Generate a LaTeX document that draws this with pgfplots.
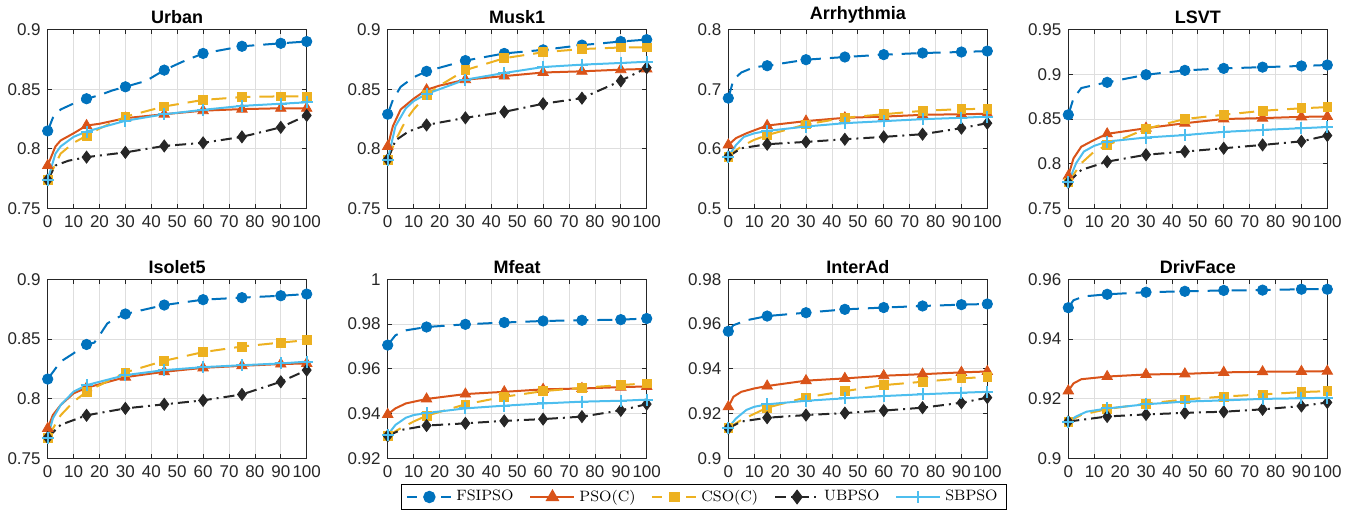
\documentclass[border=0pt]{standalone}
\usepackage{pgfplots}
\pgfplotsset{compat=1.18}
\usepackage{fontspec}
\newfontfamily\hel{Liberation Sans}
\definecolor{cfs}{rgb}{0,0.447,0.741}
\definecolor{cps}{rgb}{0.850,0.325,0.098}
\definecolor{ccs}{rgb}{0.929,0.694,0.125}
\definecolor{cub}{rgb}{0.15,0.15,0.15}
\definecolor{csb}{rgb}{0.301,0.745,0.933}
\definecolor{axc}{rgb}{0.15,0.15,0.15}
\pgfplotsset{
  sub/.style={
    scale only axis, width=129.5pt, height=89.4pt, anchor=south west,
    xmin=0, xmax=100, xtick={0,10,...,100},
    grid=major, major grid style={color=black!13, line width=0.4pt},
    tick align=inside, axis line style={axc, line width=0.45pt},
    major tick length=2.2pt, tick style={axc, line width=0.4pt},
    every tick label/.append style={color=axc, font=\hel\fontsize{8.5}{10}\selectfont},
    /pgf/number format/assume math mode=true,
    scaled y ticks=false,
    title style={font=\hel\bfseries\fontsize{9}{10}\selectfont, at={(0.5,1)}, anchor=south, yshift=-6.5pt},
  },
  fsl/.style={cfs, line width=1pt, dash pattern=on 7.5pt off 4.5pt},
  psl/.style={cps, line width=1pt},
  csl/.style={ccs, line width=1pt, dash pattern=on 7.5pt off 4.5pt},
  ubl/.style={cub, line width=1pt, dash pattern=on 5.5pt off 2.5pt on 1pt off 2.5pt},
  sbl/.style={csb, line width=1pt},
  fsm/.style={cfs, only marks, mark=*, mark size=2.6pt, mark options={solid, fill=cfs}},
  psm/.style={cps, only marks, mark=triangle*, mark size=3pt, mark options={solid, fill=cps}},
  csm/.style={ccs, only marks, mark=square*, mark size=2.2pt, mark options={solid, fill=ccs}},
  ubm/.style={cub, only marks, mark=diamond*, mark size=3pt, mark options={solid, fill=cub}},
  sbm/.style={csb, only marks, mark=+, mark size=3pt, mark options={solid, line width=1pt}},
}
\begin{document}
\begin{tikzpicture}
\useasboundingbox (0,0) rectangle (674pt,255pt);
% ---------------- Urban
\begin{axis}[sub, at={(23.85pt,150.8pt)}, title={Urban}, ymin=0.75, ymax=0.9, ytick={0.75,0.8,0.85,0.9}]
\addplot[fsl] coordinates {(0,0.815)(2,0.826)(5,0.833)(10,0.838)(15,0.842)(20,0.845)(25,0.849)(30,0.852)(38,0.857)(45,0.866)(52,0.873)(60,0.880)(75,0.886)(90,0.8885)(100,0.890)};
\addplot[fsm] coordinates {(0,0.815)(15,0.842)(30,0.852)(45,0.866)(60,0.880)(75,0.886)(90,0.8885)(100,0.890)};
\addplot[psl] coordinates {(0,0.786)(3,0.802)(5,0.807)(10,0.813)(15,0.8195)(20,0.821)(30,0.8257)(45,0.829)(60,0.832)(75,0.8333)(90,0.834)(100,0.834)};
\addplot[psm] coordinates {(0,0.786)(15,0.8195)(30,0.8257)(45,0.829)(60,0.832)(75,0.8333)(90,0.834)(100,0.834)};
\addplot[csl] coordinates {(0,0.774)(5,0.796)(10,0.805)(15,0.811)(20,0.817)(30,0.827)(45,0.8355)(60,0.841)(75,0.8434)(90,0.844)(100,0.844)};
\addplot[csm] coordinates {(0,0.774)(15,0.811)(30,0.827)(45,0.8355)(60,0.841)(75,0.8434)(90,0.844)(100,0.844)};
\addplot[ubl] coordinates {(0,0.774)(3,0.786)(8,0.790)(15,0.793)(30,0.797)(45,0.8024)(60,0.805)(75,0.810)(90,0.818)(100,0.828)};
\addplot[ubm] coordinates {(0,0.774)(15,0.793)(30,0.797)(45,0.8024)(60,0.805)(75,0.810)(90,0.818)(100,0.828)};
\addplot[sbl] coordinates {(0,0.774)(3,0.796)(5,0.802)(10,0.810)(15,0.8145)(30,0.8235)(45,0.829)(60,0.8327)(75,0.836)(90,0.8378)(100,0.839)};
\addplot[sbm] coordinates {(0,0.774)(15,0.8145)(30,0.8235)(45,0.829)(60,0.8327)(75,0.836)(90,0.8378)(100,0.839)};
\end{axis}
% ---------------- Musk1
\begin{axis}[sub, at={(193.85pt,150.8pt)}, title={Musk1}, ymin=0.75, ymax=0.9, ytick={0.75,0.8,0.85,0.9}]
\addplot[fsl] coordinates {(0,0.829)(2,0.841)(5,0.852)(10,0.860)(15,0.865)(30,0.874)(45,0.880)(60,0.883)(75,0.887)(90,0.890)(100,0.8916)};
\addplot[fsm] coordinates {(0,0.829)(15,0.865)(30,0.874)(45,0.880)(60,0.883)(75,0.887)(90,0.890)(100,0.8916)};
\addplot[psl] coordinates {(0,0.802)(2,0.819)(5,0.833)(10,0.842)(15,0.8495)(20,0.853)(30,0.858)(45,0.861)(60,0.864)(75,0.865)(90,0.8664)(100,0.867)};
\addplot[psm] coordinates {(0,0.802)(15,0.8495)(30,0.858)(45,0.861)(60,0.864)(75,0.865)(90,0.8664)(100,0.867)};
\addplot[csl] coordinates {(0,0.791)(3,0.807)(7,0.824)(10,0.833)(15,0.845)(20,0.853)(30,0.866)(45,0.876)(60,0.881)(75,0.8837)(90,0.885)(100,0.885)};
\addplot[csm] coordinates {(0,0.791)(15,0.845)(30,0.866)(45,0.876)(60,0.881)(75,0.8837)(90,0.885)(100,0.885)};
\addplot[ubl] coordinates {(0,0.791)(3,0.807)(8,0.8145)(15,0.820)(30,0.826)(45,0.831)(60,0.8378)(75,0.8425)(90,0.857)(100,0.868)};
\addplot[ubm] coordinates {(0,0.791)(15,0.820)(30,0.826)(45,0.831)(60,0.8378)(75,0.8425)(90,0.857)(100,0.868)};
\addplot[sbl] coordinates {(0,0.791)(3,0.819)(7,0.834)(10,0.840)(15,0.846)(30,0.858)(45,0.8636)(60,0.8686)(75,0.8706)(90,0.872)(100,0.873)};
\addplot[sbm] coordinates {(0,0.791)(15,0.846)(30,0.858)(45,0.8636)(60,0.8686)(75,0.8706)(90,0.872)(100,0.873)};
\end{axis}
% ---------------- Arrhythmia
\begin{axis}[sub, at={(364.15pt,150.8pt)}, title={Arrhythmia}, ymin=0.5, ymax=0.8, ytick={0.5,0.6,0.7,0.8}]
\addplot[fsl] coordinates {(0,0.685)(2,0.716)(5,0.728)(10,0.737)(15,0.7394)(30,0.7495)(45,0.754)(60,0.758)(75,0.7607)(90,0.7624)(100,0.764)};
\addplot[fsm] coordinates {(0,0.685)(15,0.7394)(30,0.7495)(45,0.754)(60,0.758)(75,0.7607)(90,0.7624)(100,0.764)};
\addplot[psl] coordinates {(0,0.6065)(3,0.618)(7,0.626)(10,0.631)(15,0.639)(30,0.6465)(45,0.652)(60,0.654)(75,0.657)(90,0.658)(100,0.6587)};
\addplot[psm] coordinates {(0,0.6065)(15,0.639)(30,0.6465)(45,0.652)(60,0.654)(75,0.657)(90,0.658)(100,0.6587)};
\addplot[csl] coordinates {(0,0.587)(5,0.604)(10,0.615)(15,0.623)(30,0.641)(45,0.652)(60,0.658)(75,0.6637)(90,0.6666)(100,0.667)};
\addplot[csm] coordinates {(0,0.587)(15,0.623)(30,0.641)(45,0.652)(60,0.658)(75,0.6637)(90,0.6666)(100,0.667)};
\addplot[ubl] coordinates {(0,0.587)(5,0.601)(15,0.6077)(30,0.6116)(45,0.616)(60,0.620)(75,0.6245)(90,0.6346)(100,0.643)};
\addplot[ubm] coordinates {(0,0.587)(15,0.6077)(30,0.6116)(45,0.616)(60,0.620)(75,0.6245)(90,0.6346)(100,0.643)};
\addplot[sbl] coordinates {(0,0.587)(3,0.6065)(6,0.620)(10,0.626)(15,0.630)(30,0.6374)(45,0.643)(60,0.6464)(75,0.6497)(90,0.652)(100,0.654)};
\addplot[sbm] coordinates {(0,0.587)(15,0.630)(30,0.6374)(45,0.643)(60,0.6464)(75,0.6497)(90,0.652)(100,0.654)};
\end{axis}
% ---------------- LSVT
\begin{axis}[sub, at={(534.15pt,150.8pt)}, title={LSVT}, ymin=0.75, ymax=0.95, ytick={0.75,0.8,0.85,0.9,0.95}]
\addplot[fsl] coordinates {(0,0.8547)(2,0.873)(5,0.8846)(10,0.888)(15,0.891)(30,0.8995)(45,0.9044)(60,0.9066)(75,0.908)(90,0.9093)(100,0.9104)};
\addplot[fsm] coordinates {(0,0.8547)(15,0.891)(30,0.8995)(45,0.9044)(60,0.9066)(75,0.908)(90,0.9093)(100,0.9104)};
\addplot[psl] coordinates {(0,0.7863)(2,0.806)(5,0.819)(10,0.8266)(15,0.8334)(30,0.8397)(45,0.8453)(60,0.850)(75,0.851)(90,0.8524)(100,0.8528)};
\addplot[psm] coordinates {(0,0.7863)(15,0.8334)(30,0.8397)(45,0.8453)(60,0.850)(75,0.851)(90,0.8524)(100,0.8528)};
\addplot[csl] coordinates {(0,0.779)(5,0.8005)(10,0.8136)(15,0.8207)(30,0.839)(45,0.850)(60,0.8547)(75,0.8592)(90,0.862)(100,0.8633)};
\addplot[csm] coordinates {(0,0.779)(15,0.8207)(30,0.839)(45,0.850)(60,0.8547)(75,0.8592)(90,0.862)(100,0.8633)};
\addplot[ubl] coordinates {(0,0.779)(5,0.793)(15,0.8023)(30,0.810)(45,0.8136)(60,0.8173)(75,0.821)(90,0.825)(100,0.8315)};
\addplot[ubm] coordinates {(0,0.779)(15,0.8023)(30,0.810)(45,0.8136)(60,0.8173)(75,0.821)(90,0.825)(100,0.8315)};
\addplot[sbl] coordinates {(0,0.779)(3,0.8005)(6,0.8136)(10,0.820)(15,0.8248)(30,0.8293)(45,0.832)(60,0.8356)(75,0.8378)(90,0.8397)(100,0.841)};
\addplot[sbm] coordinates {(0,0.779)(15,0.8248)(30,0.8293)(45,0.832)(60,0.8356)(75,0.8378)(90,0.8397)(100,0.841)};
\end{axis}
% ---------------- Isolet5
\begin{axis}[sub, at={(23.85pt,25.9pt)}, title={Isolet5}, ymin=0.75, ymax=0.9, ytick={0.75,0.8,0.85,0.9}]
\addplot[fsl] coordinates {(0,0.8164)(5,0.831)(10,0.838)(15,0.8454)(18,0.847)(20,0.853)(23,0.863)(26,0.867)(30,0.871)(45,0.8785)(60,0.883)(75,0.8847)(90,0.8863)(100,0.8877)};
\addplot[fsm] coordinates {(0,0.8164)(15,0.8454)(30,0.871)(45,0.8785)(60,0.883)(75,0.8847)(90,0.8863)(100,0.8877)};
\addplot[psl] coordinates {(0,0.775)(2,0.7862)(5,0.7946)(10,0.8044)(15,0.8091)(30,0.818)(45,0.8225)(60,0.8258)(75,0.8275)(90,0.829)(100,0.8295)};
\addplot[psm] coordinates {(0,0.775)(15,0.8091)(30,0.818)(45,0.8225)(60,0.8258)(75,0.8275)(90,0.829)(100,0.8295)};
\addplot[csl] coordinates {(0,0.7673)(5,0.786)(10,0.7974)(15,0.8058)(30,0.822)(45,0.8317)(60,0.839)(75,0.8437)(90,0.847)(100,0.849)};
\addplot[csm] coordinates {(0,0.7673)(15,0.8058)(30,0.822)(45,0.8317)(60,0.839)(75,0.8437)(90,0.847)(100,0.849)};
\addplot[ubl] coordinates {(0,0.7673)(5,0.778)(15,0.786)(30,0.7918)(45,0.7952)(60,0.7985)(75,0.8035)(90,0.8141)(100,0.8239)};
\addplot[ubm] coordinates {(0,0.7673)(15,0.786)(30,0.7918)(45,0.7952)(60,0.7985)(75,0.8035)(90,0.8141)(100,0.8239)};
\addplot[sbl] coordinates {(0,0.7673)(2,0.7834)(5,0.7946)(10,0.8058)(15,0.8113)(30,0.8197)(45,0.8239)(60,0.8264)(75,0.828)(90,0.8295)(100,0.831)};
\addplot[sbm] coordinates {(0,0.7673)(15,0.8113)(30,0.8197)(45,0.8239)(60,0.8264)(75,0.828)(90,0.8295)(100,0.831)};
\end{axis}
% ---------------- Mfeat
\begin{axis}[sub, at={(193.85pt,25.9pt)}, title={Mfeat}, ymin=0.92, ymax=1, ytick={0.92,0.94,0.96,0.98,1}]
\addplot[fsl] coordinates {(0,0.9706)(3,0.975)(7,0.9772)(15,0.9787)(30,0.9799)(45,0.9807)(60,0.9814)(75,0.9817)(90,0.982)(100,0.9825)};
\addplot[fsm] coordinates {(0,0.9706)(15,0.9787)(30,0.9799)(45,0.9807)(60,0.9814)(75,0.9817)(90,0.982)(100,0.9825)};
\addplot[psl] coordinates {(0,0.9396)(3,0.9423)(7,0.9445)(15,0.9465)(30,0.9487)(45,0.9497)(60,0.9508)(75,0.9512)(90,0.9518)(100,0.9521)};
\addplot[psm] coordinates {(0,0.9396)(15,0.9465)(30,0.9487)(45,0.9497)(60,0.9508)(75,0.9512)(90,0.9518)(100,0.9521)};
\addplot[csl] coordinates {(0,0.930)(5,0.9334)(10,0.9364)(15,0.939)(30,0.9441)(45,0.9475)(60,0.950)(75,0.9515)(90,0.9527)(100,0.9535)};
\addplot[csm] coordinates {(0,0.930)(15,0.939)(30,0.9441)(45,0.9475)(60,0.950)(75,0.9515)(90,0.9527)(100,0.9535)};
\addplot[ubl] coordinates {(0,0.930)(5,0.9326)(15,0.9346)(30,0.9356)(45,0.9367)(60,0.9375)(75,0.9386)(90,0.9414)(100,0.9442)};
\addplot[ubm] coordinates {(0,0.930)(15,0.9346)(30,0.9356)(45,0.9367)(60,0.9375)(75,0.9386)(90,0.9414)(100,0.9442)};
\addplot[sbl] coordinates {(0,0.9304)(3,0.9349)(7,0.9381)(10,0.9393)(15,0.9402)(30,0.9423)(45,0.9435)(60,0.9445)(75,0.9453)(90,0.9457)(100,0.9462)};
\addplot[sbm] coordinates {(0,0.9304)(15,0.9402)(30,0.9423)(45,0.9435)(60,0.9445)(75,0.9453)(90,0.9457)(100,0.9462)};
\end{axis}
% ---------------- InterAd
\begin{axis}[sub, at={(364.15pt,25.9pt)}, title={InterAd}, ymin=0.9, ymax=0.98, ytick={0.9,0.92,0.94,0.96,0.98}]
\addplot[fsl] coordinates {(0,0.9568)(2,0.9595)(7,0.9617)(15,0.9636)(30,0.9651)(45,0.9666)(60,0.9674)(75,0.9681)(90,0.9687)(100,0.969)};
\addplot[fsm] coordinates {(0,0.9568)(15,0.9636)(30,0.9651)(45,0.9666)(60,0.9674)(75,0.9681)(90,0.9687)(100,0.969)};
\addplot[psl] coordinates {(0,0.923)(2,0.9275)(5,0.9297)(10,0.9312)(15,0.9323)(30,0.9347)(45,0.9357)(60,0.9369)(75,0.9376)(90,0.9384)(100,0.9388)};
\addplot[psm] coordinates {(0,0.923)(15,0.9323)(30,0.9347)(45,0.9357)(60,0.9369)(75,0.9376)(90,0.9384)(100,0.9388)};
\addplot[csl] coordinates {(0,0.9134)(5,0.9171)(15,0.9226)(30,0.9272)(45,0.930)(60,0.9327)(75,0.9342)(90,0.9357)(100,0.9364)};
\addplot[csm] coordinates {(0,0.9134)(15,0.9226)(30,0.9272)(45,0.930)(60,0.9327)(75,0.9342)(90,0.9357)(100,0.9364)};
\addplot[ubl] coordinates {(0,0.9134)(5,0.9164)(15,0.9181)(30,0.9193)(45,0.9202)(60,0.9213)(75,0.9226)(90,0.9248)(100,0.9271)};
\addplot[ubm] coordinates {(0,0.9134)(15,0.9181)(30,0.9193)(45,0.9202)(60,0.9213)(75,0.9226)(90,0.9248)(100,0.9271)};
\addplot[sbl] coordinates {(0,0.9137)(3,0.9178)(7,0.9216)(10,0.923)(15,0.9241)(30,0.9257)(45,0.9268)(60,0.9278)(75,0.9286)(90,0.9293)(100,0.9297)};
\addplot[sbm] coordinates {(0,0.9137)(15,0.9241)(30,0.9257)(45,0.9268)(60,0.9278)(75,0.9286)(90,0.9293)(100,0.9297)};
\end{axis}
% ---------------- DrivFace
\begin{axis}[sub, at={(534.15pt,25.9pt)}, title={DrivFace}, ymin=0.9, ymax=0.96, ytick={0.9,0.92,0.94,0.96}]
\addplot[fsl] coordinates {(0,0.9505)(2,0.953)(6,0.9543)(15,0.955)(30,0.9557)(45,0.956)(60,0.9563)(75,0.9564)(90,0.9567)(100,0.9567)};
\addplot[fsm] coordinates {(0,0.9505)(15,0.955)(30,0.9557)(45,0.956)(60,0.9563)(75,0.9564)(90,0.9567)(100,0.9567)};
\addplot[psl] coordinates {(0,0.9226)(2,0.9251)(5,0.9265)(15,0.9274)(30,0.9281)(45,0.9283)(60,0.9288)(75,0.929)(90,0.9291)(100,0.9292)};
\addplot[psm] coordinates {(0,0.9226)(15,0.9274)(30,0.9281)(45,0.9283)(60,0.9288)(75,0.929)(90,0.9291)(100,0.9292)};
\addplot[csl] coordinates {(0,0.9123)(5,0.9145)(15,0.9165)(30,0.9183)(45,0.9197)(60,0.9207)(75,0.9214)(90,0.9222)(100,0.9225)};
\addplot[csm] coordinates {(0,0.9123)(15,0.9165)(30,0.9183)(45,0.9197)(60,0.9207)(75,0.9214)(90,0.9222)(100,0.9225)};
\addplot[ubl] coordinates {(0,0.9123)(15,0.914)(30,0.9147)(45,0.9152)(60,0.9156)(75,0.9164)(90,0.9175)(100,0.9187)};
\addplot[ubm] coordinates {(0,0.9123)(15,0.914)(30,0.9147)(45,0.9152)(60,0.9156)(75,0.9164)(90,0.9175)(100,0.9187)};
\addplot[sbl] coordinates {(0,0.9123)(3,0.914)(7,0.9156)(15,0.9167)(30,0.9181)(45,0.919)(60,0.9194)(75,0.9199)(90,0.9201)(100,0.9203)};
\addplot[sbm] coordinates {(0,0.9123)(15,0.9167)(30,0.9181)(45,0.919)(60,0.9194)(75,0.9199)(90,0.9201)(100,0.9203)};
\end{axis}
% ---------------- Legend
\begin{axis}[hide axis, scale only axis, width=10pt, height=10pt, at={(352pt,6.5pt)}, anchor=center,
  xmin=0, xmax=1, ymin=0, ymax=1,
  legend columns=5,
  legend style={at={(0.5,0.5)}, anchor=center, draw=black, line width=0.5pt,
    font=\fontsize{7.5}{9}\selectfont, inner xsep=2.5pt, inner ysep=0.8pt,
    /tikz/every even column/.append style={column sep=6pt}},
  legend image code/.code={\draw[mark repeat=2,mark phase=2] plot coordinates {(0pt,0pt)(11pt,0pt)(22pt,0pt)};}]
\addlegendimage{cfs, line width=1pt, dash pattern=on 5pt off 3.5pt, mark=*, mark size=2.6pt, mark options={solid, fill=cfs}}
\addlegendentry{FSIPSO}
\addlegendimage{psl, mark=triangle*, mark size=3pt, mark options={solid, fill=cps}}
\addlegendentry{PSO(C)}
\addlegendimage{ccs, line width=1pt, dash pattern=on 5pt off 3.5pt, mark=square*, mark size=2.2pt, mark options={solid, fill=ccs}}
\addlegendentry{CSO(C)}
\addlegendimage{ubl, mark=diamond*, mark size=3pt, mark options={solid, fill=cub}}
\addlegendentry{UBPSO}
\addlegendimage{sbl, mark=+, mark size=3pt, mark options={solid}}
\addlegendentry{SBPSO}
\end{axis}
\end{tikzpicture}
\end{document}
